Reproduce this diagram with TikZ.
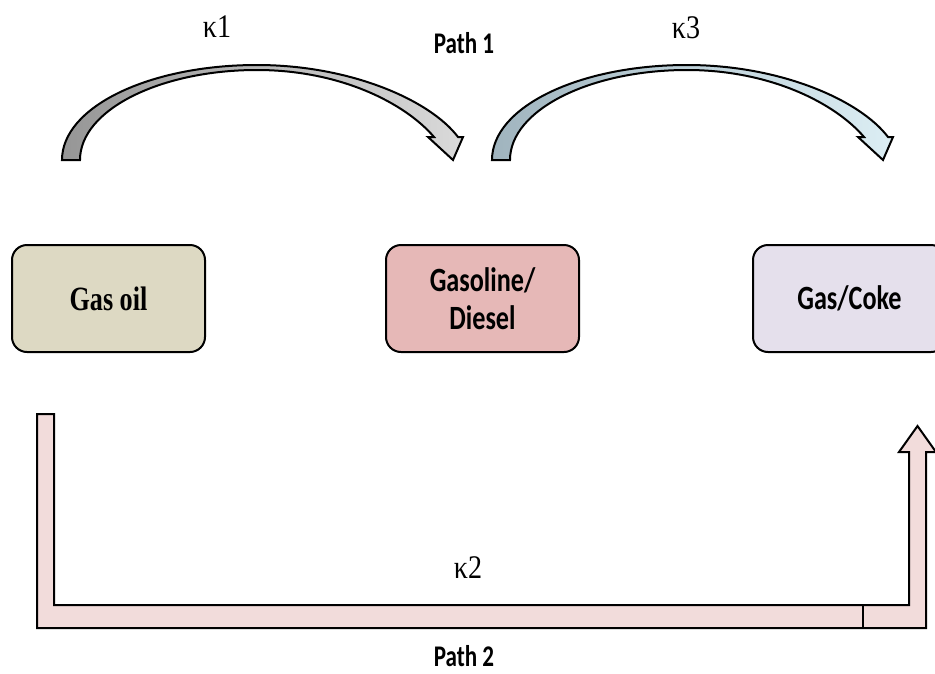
\documentclass[tikz,border=0pt]{standalone}
\usepackage{fontspec}
\usepackage{tikz}
\usetikzlibrary{positioning,calc}
\newfontfamily\calfont[FakeStretch=0.77]{Carlito}
\newfontfamily\timesfont[FakeStretch=0.77]{Liberation Serif}
\newfontfamily\kappafont[FakeStretch=0.85]{Liberation Serif}
\definecolor{GASOILCOL}{RGB}{221,217,195}
\definecolor{GASOLINECOL}{RGB}{230,184,183}
\definecolor{GASCOKECOL}{RGB}{229,224,236}
\definecolor{PATHTWOCOL}{RGB}{242,220,219}
\definecolor{ARCL1}{RGB}{150,150,150}
\definecolor{ARCR1}{RGB}{218,218,218}
\definecolor{ARCL2}{RGB}{160,180,190}
\definecolor{ARCR2}{RGB}{220,238,244}
\begin{document}
\begin{tikzpicture}[x=1pt, y=-1pt]
% Define
\tikzstyle{RECTANGLE_1} = [rectangle, draw=black, line width=2pt, rounded corners=15pt, minimum width=193pt, minimum height=107pt, align=center, font=\calfont\bfseries\fontsize{34}{38}\selectfont]
\tikzstyle{LABEL_K} = [font=\kappafont\fontsize{33}{36}\selectfont]
\tikzstyle{LABEL_PATH} = [font=\calfont\bfseries\fontsize{30}{34}\selectfont]
\tikzstyle{CURVED_ARROW} = [draw=black, line width=2pt, line join=miter]
\tikzstyle{BENT_ARROW} = [draw=black, line width=2pt, fill=PATHTWOCOL, line join=miter]
\useasboundingbox (0,0) rectangle (935,673);
% Place node
\node [RECTANGLE_1, fill=GASOILCOL, font=\timesfont\bfseries\fontsize{34}{38}\selectfont] (GASOIL) at (108.5,298.5) {Gas oil};
\node [RECTANGLE_1, fill=GASOLINECOL, right=179pt of GASOIL] (GASOLINE) {Gasoline/\\Diesel};
\node [RECTANGLE_1, fill=GASCOKECOL, right=172pt of GASOLINE] (GASCOKE) {Gas/Coke};
%
\node [LABEL_K] (K1) at (217,27) {κ1};
\node [LABEL_K] (K3) at (686,28) {κ3};
\node [LABEL_K] (K2) at (468,568) {κ2};
\node [LABEL_PATH] (PATH1) at (464,43) {Path 1};
\node [LABEL_PATH] (PATH2) at (464,656) {Path 2};
% LINES and ARROWS
\foreach \dx/\cl/\cr in {0/ARCL1/ARCR1, 430/ARCL2/ARCR2}{
  \draw [CURVED_ARROW, left color=\cl, right color=\cr, shift={(\dx,0)}]
    (62,160) .. controls (62,107) and (149,65) .. (257,65)
    .. controls (350,65) and (430,100) .. (458,137)
    -- (463,137) -- (453,160) -- (428,137) -- (434,137)
    .. controls (405,103) and (340,70) .. (257,70)
    .. controls (160,70) and (80,110) .. (80,160) -- cycle;
}
%
\draw [BENT_ARROW] (37,414) -- (54,414) -- (54,605) -- (909,605) -- (909,452)
  -- (899,452) -- (917.5,426) -- (936,452) -- (926,452) -- (926,628) -- (37,628) -- cycle;
\draw [line width=1.5pt] (863,605) -- (863,628);
\end{tikzpicture}
\end{document}
